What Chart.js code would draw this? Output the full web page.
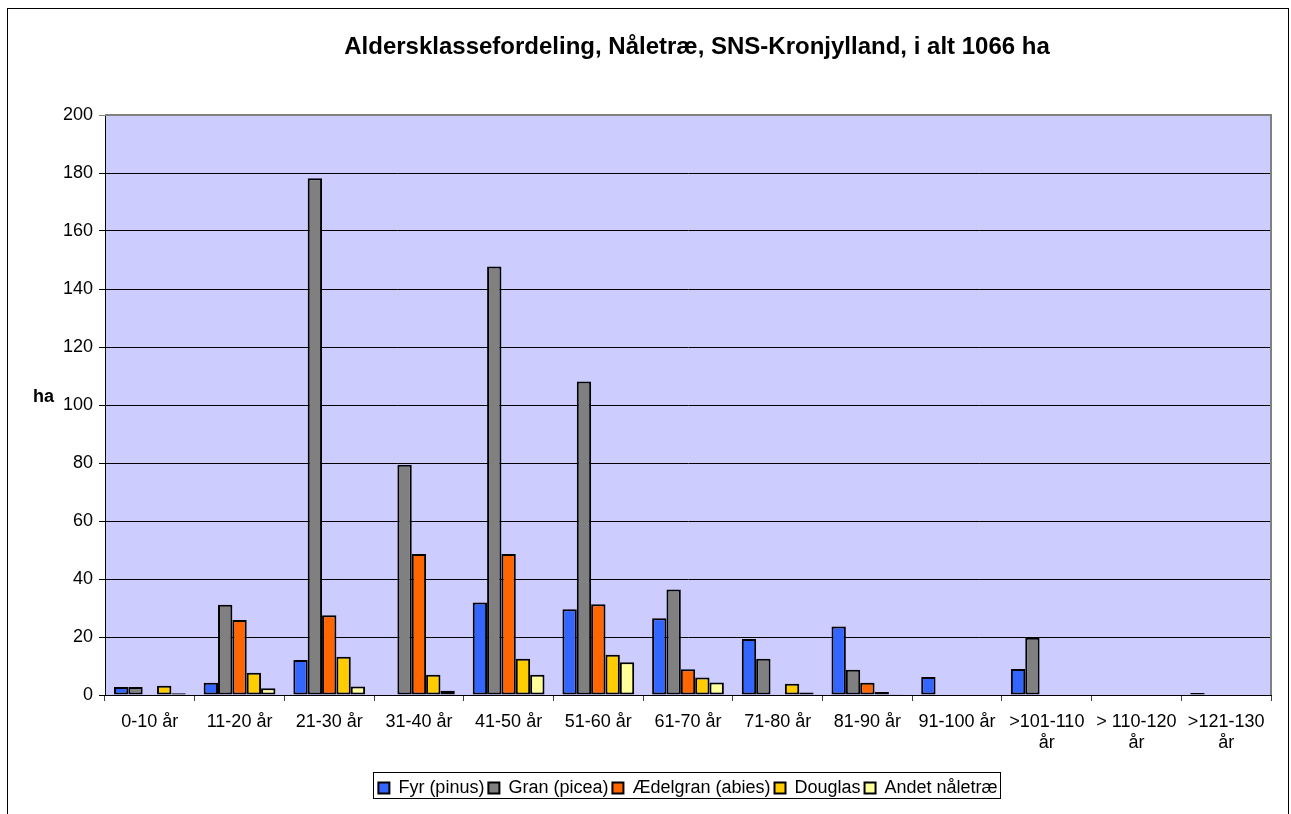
<!DOCTYPE html>
<html>
<head>
<meta charset="utf-8">
<script src="https://cdn.jsdelivr.net/npm/chart.js@4.4.0/dist/chart.umd.min.js"></script>
<style>
  body { margin: 0; background: #fff; }
  canvas { display: block; }
</style>
</head>
<body>
<canvas id="miGrafico" width="1291" height="814"></canvas>
<script>
const titulo = "Aldersklassefordeling, Nåletræ, SNS-Kronjylland, i alt 1066 ha";

const aldersklasser = [
  "0-10 år", "11-20 år", "21-30 år", "31-40 år", "41-50 år", "51-60 år",
  "61-70 år", "71-80 år", "81-90 år", "91-100 år",
  [">101-110", "år"], ["> 110-120", "år"], [">121-130", "år"]
];

const fyr = [2.8, 4.2, 12.1, null, 31.9, 29.6, 26.5, 19.3, 23.6, 6.2, 9.0, null, 0.7];
const gran = [2.8, 31.1, 178.2, 79.4, 147.8, 108.1, 36.4, 12.5, 8.7, null, 19.7, null, null];
const aedelgran = [null, 25.9, 27.5, 48.6, 48.6, 31.3, 8.9, null, 4.2, null, null, null, null];
const douglas = [3.2, 7.7, 13.2, 7.0, 12.5, 13.9, 6.0, 3.9, 1.0, null, null, null, null];
const andet = [0.6, 2.3, 2.9, 1.5, 7.0, 11.3, 4.3, 0.9, 0.3, null, null, null, null];

const yTicks = [0, 20, 40, 60, 80, 100, 120, 140, 160, 180, 200];

const fuente = "'Liberation Sans', Arial, sans-serif";

// fondo, rammer, titel og "ha"
const dekor = {
  id: "dekor",
  afterLayout(chart) {
    // flyt legenden så den står midt under plotområdet
    const lg = chart.legend;
    const d = 688 - (lg.left + lg.right) / 2;
    lg.left += d;
    lg.right += d;
  },
  beforeDraw(chart) {
    const ctx = chart.ctx;
    const a = chart.chartArea;
    ctx.save();
    ctx.fillStyle = "#CCCCFF";
    ctx.fillRect(a.left, a.top, a.right - a.left, a.bottom - a.top);
    ctx.restore();
  },
  afterDraw(chart) {
    const ctx = chart.ctx;
    const a = chart.chartArea;
    ctx.save();
    // ydre ramme
    ctx.strokeStyle = "#000";
    ctx.lineWidth = 1;
    ctx.strokeRect(7.5, 8.5, 1281, 830);

    // grå ramme top/højre
    ctx.strokeStyle = "#808080";
    ctx.lineWidth = 2;
    ctx.beginPath();
    ctx.moveTo(a.left, a.top);
    ctx.lineTo(a.right, a.top);
    ctx.lineTo(a.right, a.bottom);
    ctx.stroke();

    // titel
    ctx.fillStyle = "#000";
    ctx.font = "bold 24px " + fuente;
    ctx.textAlign = "center";
    ctx.textBaseline = "middle";
    ctx.fillText(titulo, 697, 47);

    // akse-titel
    ctx.font = "bold 18px " + fuente;
    ctx.textAlign = "left";
    ctx.fillText("ha", 33, 397);

    // ramme om legenden
    const boxes = chart.legend.legendHitBoxes;
    if (boxes && boxes.length) {
      const first = boxes[0];
      const last = boxes[boxes.length - 1];
      const midt = first.top + first.height / 2;
      ctx.strokeStyle = "#000";
      ctx.lineWidth = 1;
      ctx.strokeRect(Math.round(first.left - 5) + 0.5, Math.round(midt - 16) + 0.5,
        Math.round(last.left + last.width + 3 - (first.left - 5)), 26);
    }
    ctx.restore();
  }
};

const ctx = document.getElementById("miGrafico").getContext("2d");

const miGrafico = new Chart(ctx, {
  type: "bar",
  data: {
    labels: aldersklasser,
    datasets: [
      { label: "Fyr (pinus)", data: fyr, backgroundColor: "#3366FF" },
      { label: "Gran (picea)", data: gran, backgroundColor: "#808080" },
      { label: "Ædelgran (abies)", data: aedelgran, backgroundColor: "#FF6600" },
      { label: "Douglas", data: douglas, backgroundColor: "#FFCC00" },
      { label: "Andet nåletræ", data: andet, backgroundColor: "#FFFF99" }
    ]
  },
  options: {
    responsive: false,
    devicePixelRatio: 1,
    animation: false,
    layout: {
      padding: { left: 55, right: 20, top: 115, bottom: 7 }
    },
    datasets: {
      bar: {
        borderColor: "#000",
        borderWidth: 2,
        borderSkipped: false,
        categoryPercentage: 0.8,
        barPercentage: 1
      }
    },
    plugins: {
      title: { display: false },
      tooltip: { enabled: false },
      legend: {
        position: "bottom",
        labels: {
          boxWidth: 11,
          boxHeight: 11,
          padding: 4,
          color: "#000",
          font: { family: fuente, size: 18 }
        }
      }
    },
    scales: {
      x: {
        afterFit(scale) { scale.height = 80; },
        grid: {
          drawOnChartArea: false,
          drawTicks: true,
          tickLength: 6,
          color: "#404040"
        },
        border: { color: "#000", width: 1 },
        ticks: {
          color: "#000",
          padding: 10,
          maxRotation: 0,
          autoSkip: false,
          font: { family: fuente, size: 18 }
        }
      },
      y: {
        min: 0,
        max: 200,
        afterFit(scale) { scale.width = 50; },
        afterBuildTicks(scale) { scale.ticks = yTicks.map(v => ({ value: v })); },
        grid: {
          color: c => (c.tick && c.tick.value === 200 ? "#808080" : "#000"),
          lineWidth: 1,
          drawTicks: true,
          tickLength: 6
        },
        border: { color: "#000", width: 1 },
        ticks: {
          color: "#000",
          padding: 6,
          font: { family: fuente, size: 18 }
        }
      }
    }
  },
  plugins: [dekor]
});
</script>
</body>
</html>
